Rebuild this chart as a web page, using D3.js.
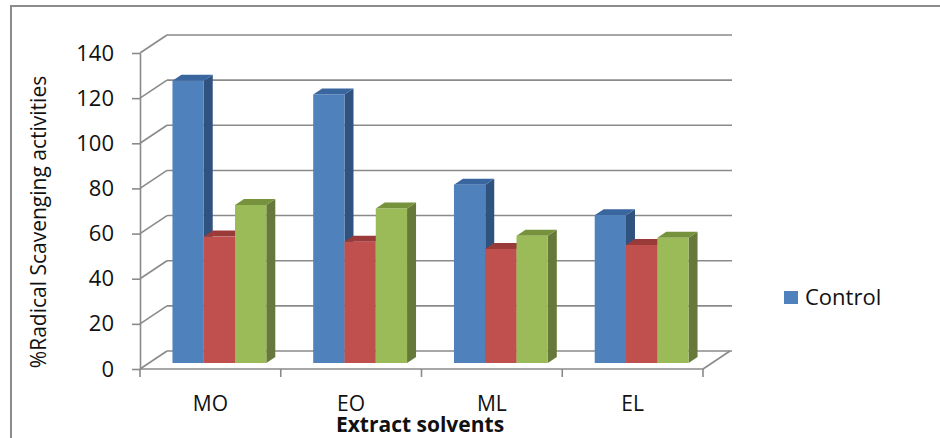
<!DOCTYPE html>
<html>
<head>
<meta charset="utf-8">
<script src="https://cdn.jsdelivr.net/npm/d3@7"></script>
<style>
  html, body { margin: 0; padding: 0; background: #fff; }
  svg { display: block; }
  text { font-family: "Open Sans", "DejaVu Sans", sans-serif; fill: #111; }
</style>
</head>
<body>
<svg id="chart" width="940" height="438"></svg>
<script>
// Radical scavenging activity (%) by extract solvent
const categories = ["MO", "EO", "ML", "EL"];
const seriesNames = ["Control", "Series2", "Series3"];
const controlValues = [125, 119, 79, 65.5];
const series2Values = [56, 53.7, 50.5, 52.3];
const series3Values = [70, 68.5, 56.4, 55.5];
const yTicks = [0, 20, 40, 60, 80, 100, 120, 140];
const legendLabels = ["Control"];

const seriesValues = [controlValues, series2Values, series3Values];
const palette = [
  { front: "#4f81bd", side: "#30527e", top: "#3a66a0" },
  { front: "#c0504d", side: "#8a3735", top: "#9b3b39" },
  { front: "#9bbb59", side: "#67793a", top: "#77923d" }
];

const svg = d3.select("#chart");

// outer chart border (only its top and left edges fall inside the view)
svg.append("rect")
  .attr("x", 11).attr("y", 6).attr("width", 1100).attr("height", 1100)
  .attr("fill", "none").attr("stroke", "#8c8c8c").attr("stroke-width", 2);

// plot geometry: front plane plus an oblique depth offset
const plotLeft = 140, plotRight = 703;
const depthX = 27, depthY = -18;
const y = d3.scaleLinear().domain([0, 140]).range([369, 53]);
const x0 = d3.scaleBand().domain(categories).range([plotLeft, plotRight]).padding(0);
const x1 = d3.scaleBand().domain(seriesNames).range([0, x0.bandwidth()])
  .paddingInner(0).paddingOuter(0.75);

const gridColor = "#8a8a8a";
const grid = svg.append("g").attr("stroke", gridColor).attr("stroke-width", 1.6).attr("fill", "none");

// back wall gridlines and side wall diagonals
yTicks.forEach(v => {
  grid.append("line")
    .attr("x1", plotLeft + depthX).attr("x2", 732)
    .attr("y1", y(v) + depthY).attr("y2", y(v) + depthY);
  grid.append("line")
    .attr("x1", plotLeft).attr("y1", y(v))
    .attr("x2", plotLeft + depthX).attr("y2", y(v) + depthY);
});

// floor front edge and right edge
grid.append("line")
  .attr("x1", plotLeft).attr("x2", plotRight)
  .attr("y1", y(0)).attr("y2", y(0));
grid.append("line")
  .attr("x1", plotRight).attr("y1", y(0))
  .attr("x2", plotRight + depthX).attr("y2", y(0) + depthY);

// category boundary ticks
const boundaries = categories.map(c => x0(c)).concat([plotRight]);
boundaries.forEach(bx => {
  grid.append("line")
    .attr("x1", bx).attr("x2", bx)
    .attr("y1", y(0)).attr("y2", y(0) + 8);
});

// 3D columns, sitting in the middle third of the depth
const t0 = 1 / 3, t1 = 2 / 3;
const bars = svg.append("g");
categories.forEach((c, ci) => {
  seriesNames.forEach((s, si) => {
    const v = seriesValues[si][ci];
    const col = palette[si];
    const fx = x0(c) + x1(s) + depthX * t0;
    const w = x1.bandwidth();
    const fyTop = y(v) + depthY * t0;
    const fyBot = y(0) + depthY * t0;
    const ddx = depthX * (t1 - t0), ddy = depthY * (t1 - t0);
    const g = bars.append("g");
    // right side face
    g.append("path")
      .attr("d", `M${fx + w},${fyTop} L${fx + w + ddx},${fyTop + ddy} L${fx + w + ddx},${fyBot + ddy} L${fx + w},${fyBot} Z`)
      .attr("fill", col.side);
    // top face
    g.append("path")
      .attr("d", `M${fx},${fyTop} L${fx + ddx},${fyTop + ddy} L${fx + w + ddx},${fyTop + ddy} L${fx + w},${fyTop} Z`)
      .attr("fill", col.top);
    // front face
    g.append("rect")
      .attr("x", fx).attr("y", fyTop)
      .attr("width", w).attr("height", fyBot - fyTop)
      .attr("fill", col.front);
  });
});

// value axis
const yAxis = d3.axisLeft(y).tickValues(yTicks).tickSize(8).tickSizeOuter(0).tickPadding(18);
const yAxisG = svg.append("g").attr("transform", `translate(${plotLeft},0)`).call(yAxis);
yAxisG.select(".domain").attr("stroke", gridColor).attr("stroke-width", 1.6);
yAxisG.selectAll(".tick line").attr("stroke", gridColor).attr("stroke-width", 1.6);
yAxisG.selectAll(".tick text")
  .attr("font-size", 22).attr("font-family", "'Open Sans', sans-serif").attr("fill", "#111");

// category labels
svg.append("g").selectAll("text").data(categories).join("text")
  .attr("x", c => x0(c) + x0.bandwidth() / 2)
  .attr("y", 411)
  .attr("text-anchor", "middle")
  .attr("font-size", 21)
  .text(c => c);

// axis titles
svg.append("text")
  .attr("x", 420).attr("y", 432)
  .attr("text-anchor", "middle")
  .attr("font-size", 21).attr("font-weight", "bold")
  .text("Extract solvents");

svg.append("text")
  .attr("transform", "translate(46,222) rotate(-90)")
  .attr("text-anchor", "middle")
  .attr("font-size", 21)
  .text("%Radical Scavenging activities");

// legend
const legend = svg.append("g").attr("transform", "translate(784,291)");
legendLabels.forEach((lab, i) => {
  legend.append("rect").attr("x", 0).attr("y", i * 28).attr("width", 14).attr("height", 13)
    .attr("fill", palette[i].front);
  legend.append("text").attr("x", 21).attr("y", i * 28 + 14)
    .attr("font-size", 22).text(lab);
});
</script>
</body>
</html>
